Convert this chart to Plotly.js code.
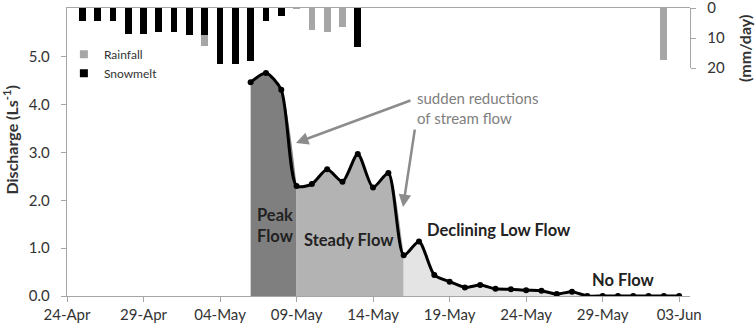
<!DOCTYPE html>
<html>
<head>
<meta charset="utf-8">
<script src="https://cdn.plot.ly/plotly-3.0.1.min.js"></script>
<style>html,body{margin:0;padding:0;background:#fff}#chart{width:756px;height:331px}</style>
</head>
<body>
<div id="chart"></div>
<script>
// ---- data ----
const flowDates = ['2013-05-06','2013-05-07','2013-05-08','2013-05-09','2013-05-10','2013-05-11','2013-05-12','2013-05-13','2013-05-14','2013-05-15','2013-05-16','2013-05-17','2013-05-18','2013-05-19','2013-05-20','2013-05-21','2013-05-22','2013-05-23','2013-05-24','2013-05-25','2013-05-26','2013-05-27','2013-05-28','2013-05-29','2013-05-30','2013-05-31','2013-06-01','2013-06-02','2013-06-03'];
const discharge = [4.47,4.66,4.31,2.30,2.34,2.65,2.39,2.97,2.27,2.57,0.85,1.14,0.44,0.30,0.18,0.23,0.15,0.14,0.12,0.11,0.04,0.09,0.00,0.00,0.00,0.00,0.00,0.00,0.00];

const precipDates = ['2013-04-25','2013-04-26','2013-04-27','2013-04-28','2013-04-29','2013-04-30','2013-05-01','2013-05-02','2013-05-03','2013-05-04','2013-05-05','2013-05-06','2013-05-07','2013-05-08','2013-05-09','2013-05-10','2013-05-11','2013-05-12','2013-05-13','2013-06-02'];
const snowmelt = [4.2,4.2,4.2,8.7,8.7,8.0,8.0,8.9,8.9,18.6,18.6,17.6,4.2,2.6,0,0,0,0,13.0,0];
const rainfall = [0,0,0,0,0,0,0,0,3.6,0,0,0,0,0,0.4,7.2,7.9,6.3,0,17.2];

// flow phases (index ranges into flowDates)
const phaseNames = ['Peak Flow','Steady Flow','Declining Low Flow'];
const phaseStart = [0,3,10];
const phaseEnd   = [3,10,22];
const phaseColors = ['#7f7f7f','#b3b3b3','#e4e4e4'];

const xTicks = ['2013-04-24','2013-04-29','2013-05-04','2013-05-09','2013-05-14','2013-05-19','2013-05-24','2013-05-29','2013-06-03'];
const xTickText = ['24-Apr','29-Apr','04-May','09-May','14-May','19-May','24-May','29-May','03-Jun'];
const yTicks = [0,1,2,3,4,5];
const y2Ticks = [0,10,20];

const FONT = 'Lato, "Open Sans", sans-serif';
const SMOOTH = 0.7;
const traces = [];

phaseNames.forEach((n,i)=>{
  traces.push({
    type:'scatter', mode:'lines', name:n, showlegend:false, hoverinfo:'skip',
    x: flowDates.slice(phaseStart[i], phaseEnd[i]+1),
    y: discharge.slice(phaseStart[i], phaseEnd[i]+1),
    line:{shape:'spline', smoothing:SMOOTH, width:0, color:phaseColors[i]},
    fill:'tozeroy', fillcolor:phaseColors[i]
  });
});

traces.push({
  type:'scatter', mode:'lines+markers', name:'Discharge', showlegend:false,
  x: flowDates, y: discharge,
  line:{shape:'spline', smoothing:SMOOTH, color:'#000', width:3},
  marker:{color:'#000', size:6}
});

traces.push({
  type:'bar', name:'Snowmelt', x:precipDates, y:snowmelt, xaxis:'x', yaxis:'y2',
  marker:{color:'#000'}, showlegend:false
});
traces.push({
  type:'bar', name:'Rainfall', x:precipDates, y:rainfall, xaxis:'x', yaxis:'y2',
  marker:{color:'#a6a6a6'}, showlegend:false
});
// legend entries
traces.push({type:'scatter', mode:'markers', name:'Rainfall', x:[null], y:[null],
  marker:{symbol:'square', size:8, color:'#a6a6a6'}, showlegend:true});
traces.push({type:'scatter', mode:'markers', name:'Snowmelt', x:[null], y:[null],
  marker:{symbol:'square', size:8, color:'#000'}, showlegend:true});

const axisColor = '#a6a6a6';
const layout = {
  width:756, height:331,
  margin:{l:67, r:66, t:8, b:35, pad:0},
  paper_bgcolor:'#fff', plot_bgcolor:'rgba(0,0,0,0)',
  font:{family:FONT, color:'#333'},
  barmode:'stack', bargap:0.56,
  showlegend:true,
  legend:{x:-0.005, y:0.89, xanchor:'left', yanchor:'top', bgcolor:'rgba(0,0,0,0)', traceorder:'normal',
    font:{size:12, color:'#333', family:FONT}, itemwidth:30, tracegroupgap:0},
  xaxis:{
    type:'date', range:['2013-04-24','2013-06-03 17:00'],
    tickvals:xTicks, ticktext:xTickText,
    showline:true, linecolor:axisColor, linewidth:1.3, mirror:true,
    ticks:'outside', ticklen:5, tickcolor:axisColor,
    showgrid:false, zeroline:false,
    tickfont:{size:15, color:'#333'}
  },
  yaxis:{
    range:[0,6.02], tickvals:yTicks, tickformat:'.1f',
    showline:true, linecolor:axisColor, linewidth:1.3,
    ticks:'outside', ticklen:5, tickcolor:axisColor, ticklabelstandoff:8,
    showgrid:false, zeroline:false,
    tickfont:{size:15, color:'#333'}
  },
  yaxis2:{
    domain:[1-60/288, 1], range:[20,0], anchor:'x', side:'right',
    tickvals:y2Ticks, ticklabeloverflow:'allow',
    showline:true, linecolor:axisColor, linewidth:1.3,
    ticks:'outside', ticklen:5, tickcolor:axisColor, ticklabelstandoff:8,
    showgrid:false, zeroline:false,
    tickfont:{size:15, color:'#333'}
  },
  annotations:[
    {xref:'paper', yref:'paper', x:0, xshift:-56, y:(296-140.5)/288, text:'<b>Discharge (Ls<sup>-1</sup>)</b>',
     textangle:-90, showarrow:false, xanchor:'center', yanchor:'middle', font:{size:16, color:'#333'}},
    {xref:'paper', yref:'paper', x:1, xshift:54, y:(296-49)/288, text:'<b>(mm/day)</b>',
     textangle:-90, showarrow:false, xanchor:'center', yanchor:'middle', font:{size:16, color:'#333'}},
    {x:'2013-05-06 07:00', y:1.47, text:'<b>Peak<br>Flow</b>', align:'left', showarrow:false,
     xanchor:'left', yanchor:'middle', font:{size:16.5, color:'#222'}},
    {x:'2013-05-09 08:00', y:1.17, text:'<b>Steady Flow</b>', showarrow:false,
     xanchor:'left', yanchor:'middle', font:{size:16.5, color:'#222'}},
    {x:'2013-05-17 09:00', y:1.37, text:'<b>Declining Low Flow</b>', showarrow:false,
     xanchor:'left', yanchor:'middle', font:{size:16.5, color:'#222'}},
    {x:'2013-05-28 04:00', y:0.33, text:'<b>No Flow</b>', showarrow:false,
     xanchor:'left', yanchor:'middle', font:{size:16.5, color:'#222'}},
    {x:'2013-05-16 17:30', y:3.94, text:'sudden reductions<br>of stream flow', align:'left', showarrow:false,
     xanchor:'left', yanchor:'middle', font:{size:15, color:'#808080'}},
    {x:'2013-05-08 23:00', y:3.2, text:'', showarrow:true, ax:116, ay:-43,
     arrowhead:2, arrowsize:1, arrowwidth:2.5, arrowcolor:'#8c8c8c'},
    {x:'2013-05-15 23:00', y:1.86, text:'', showarrow:true, ax:12, ay:-79,
     arrowhead:2, arrowsize:1, arrowwidth:2.5, arrowcolor:'#8c8c8c'}
  ]
};

Plotly.newPlot('chart', traces, layout, {displayModeBar:false, staticPlot:true});
</script>
</body>
</html>
